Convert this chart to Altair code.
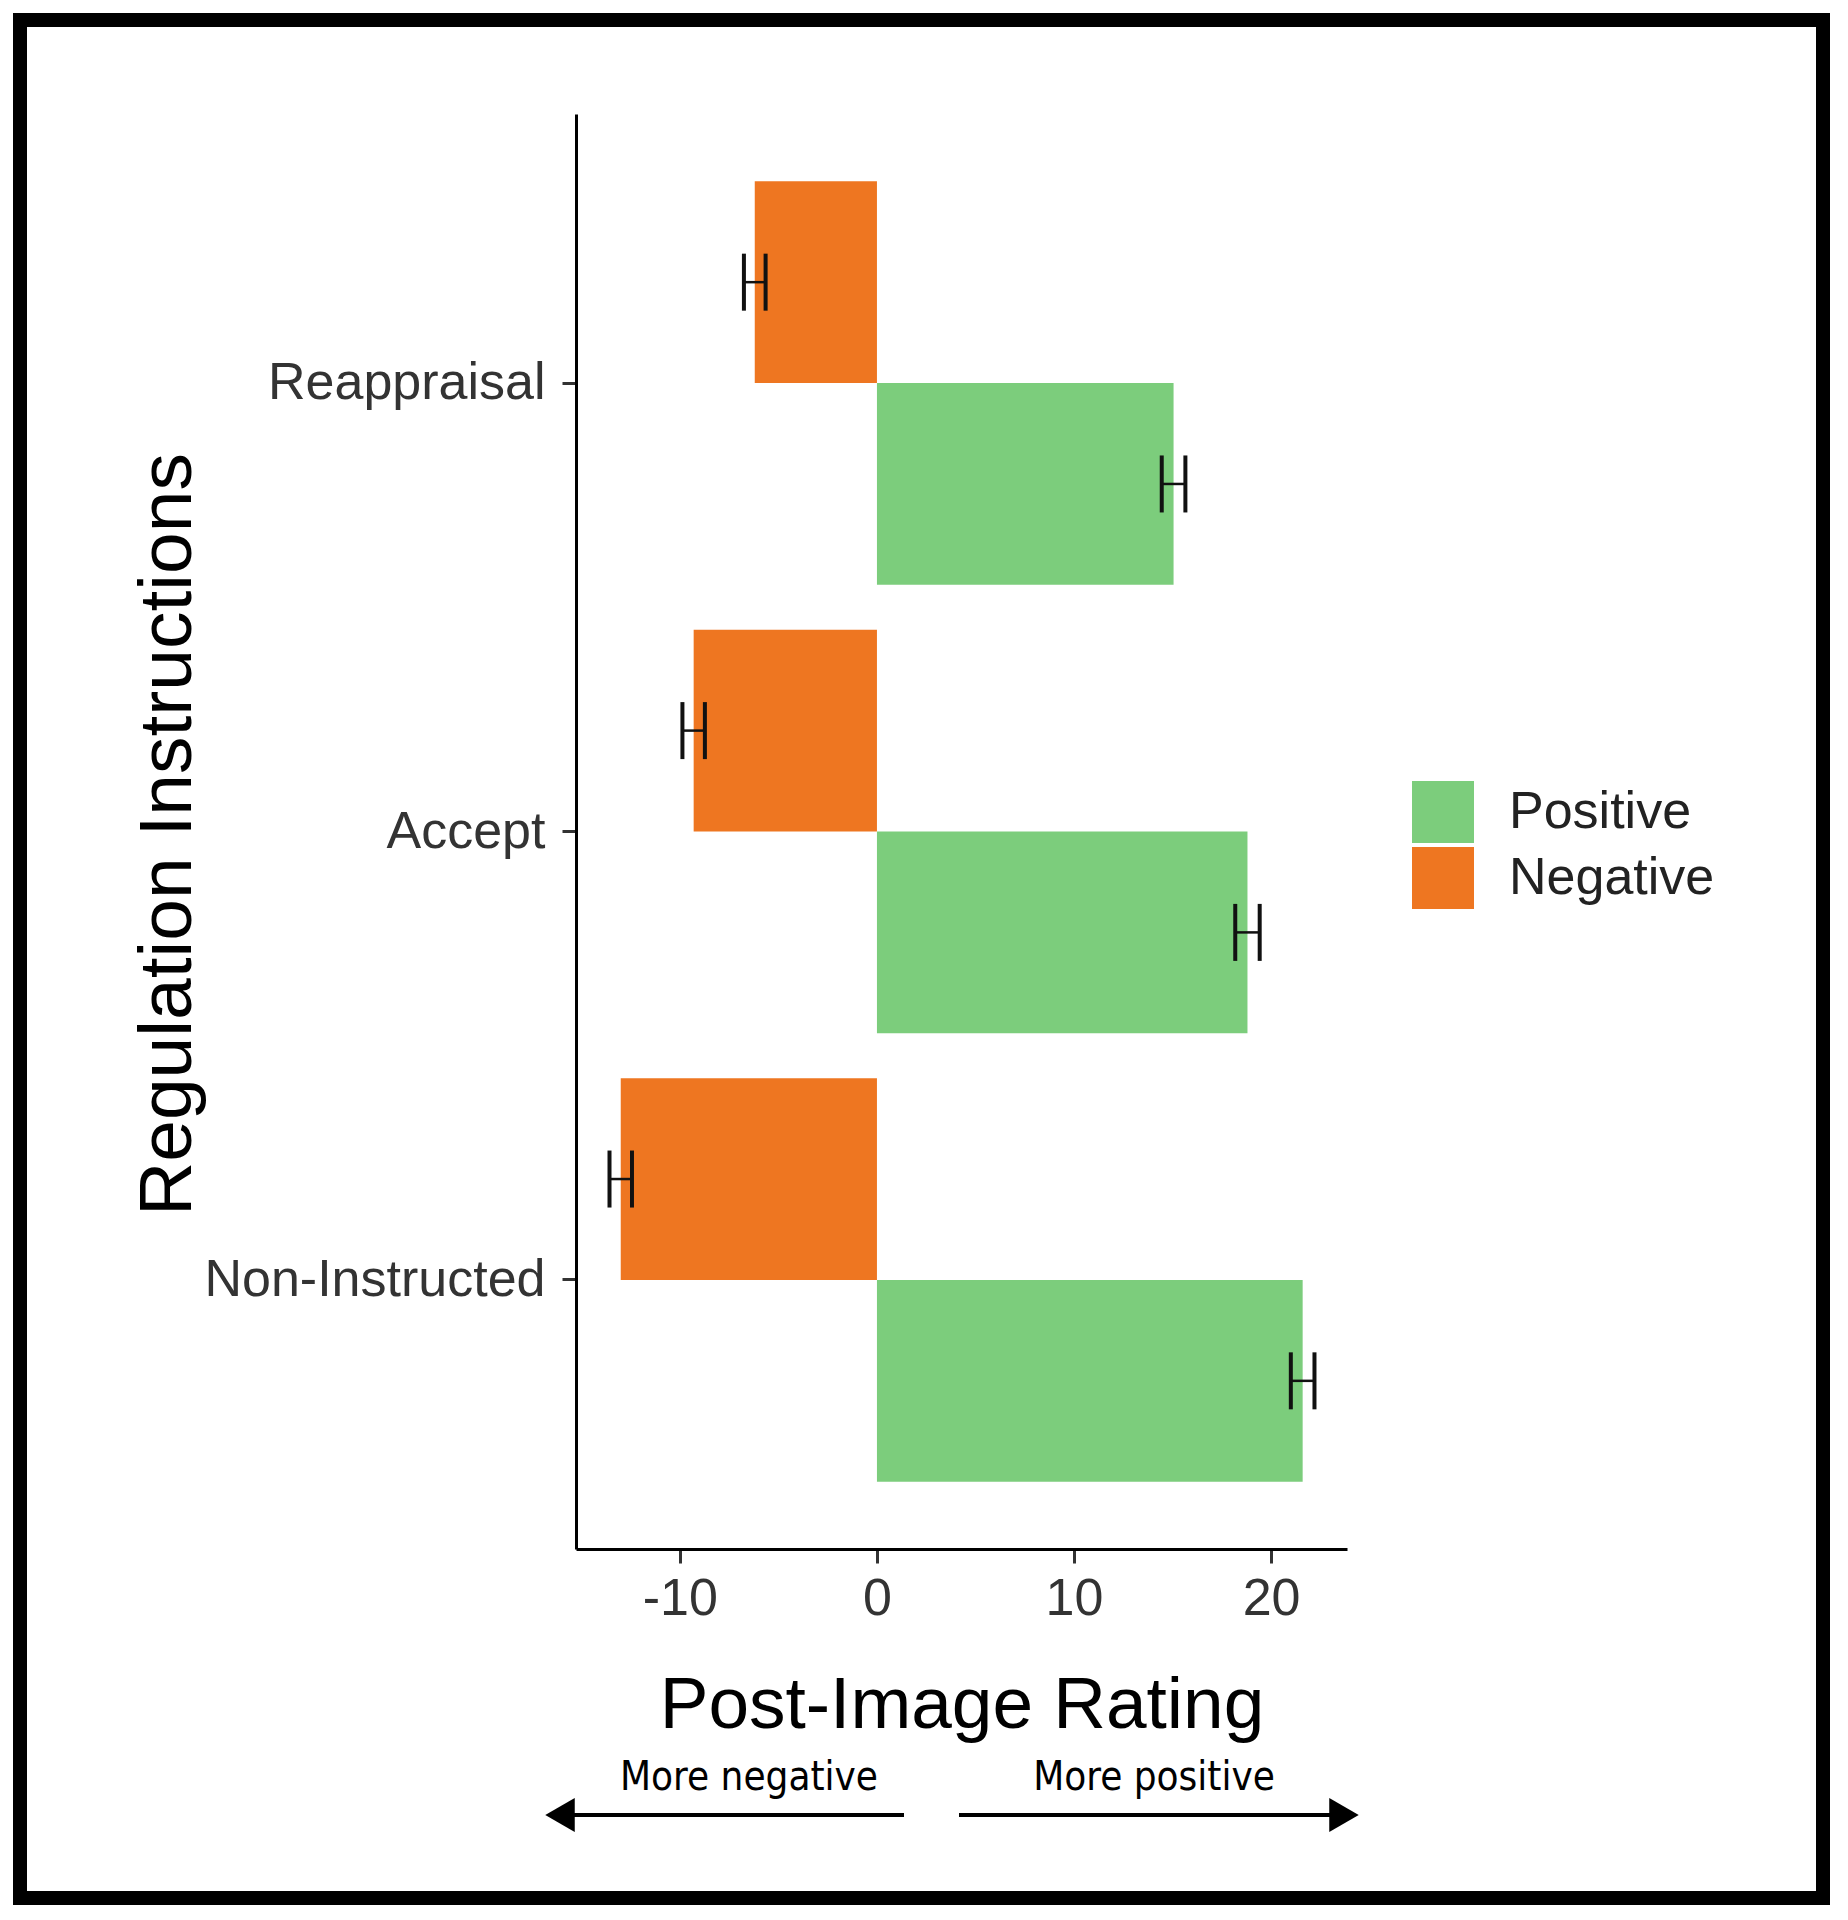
import altair as alt
import pandas as pd

# ---- data ----
categories = ["Reappraisal", "Accept", "Non-Instructed"]
positive_means = [15.05, 18.8, 21.6]
positive_se = [0.6, 0.62, 0.6]
negative_means = [-6.2, -9.3, -13.0]
negative_se = [0.55, 0.57, 0.57]
legend_order = ["Positive", "Negative"]
stack_order = ["Negative", "Positive"]
bar_colors = ["#7CCD7C", "#EE7621"]
x_ticks = [-10, 0, 10, 20]

rows = []
for c, m, s in zip(categories, positive_means, positive_se):
    rows.append({"Instruction": c, "Valence": "Positive", "Rating": m, "lo": m - s, "hi": m + s})
for c, m, s in zip(categories, negative_means, negative_se):
    rows.append({"Instruction": c, "Valence": "Negative", "Rating": m, "lo": m - s, "hi": m + s})
df = pd.DataFrame(rows)

W, H = 771, 1435
FONT = "Liberation Sans, Arial, Helvetica, sans-serif"
NARROW = "Liberation Sans Narrow, Arial Narrow, DejaVu Sans Condensed, sans-serif"

x_scale = alt.Scale(domain=[-15.27, 23.85], nice=False, zero=False)
x_axis = alt.Axis(
    values=x_ticks, title="Post-Image Rating", labelExpr="toString(datum.value)",
    labelFontSize=52, labelColor="#333333", labelFont=FONT, labelPadding=10,
    tickSize=14, tickWidth=3, tickColor="#333333",
    domainColor="black", domainWidth=3, grid=False,
    titleFont=FONT, titleFontSize=73, titleFontWeight="normal", titleColor="black",
    titleX=W / 2, titleY=178, titleBaseline="alphabetic", titleAlign="center",
)
y_scale = alt.Scale(domain=categories, paddingInner=0.1, paddingOuter=0.15)
y_axis = alt.Axis(
    title="Regulation Instructions", labelFontSize=52, labelColor="#333333", labelFont=FONT,
    labelPadding=17, labelLimit=600, tickSize=14, tickWidth=3, tickColor="#333333",
    domainColor="black", domainWidth=3, grid=False,
    titleFont=FONT, titleFontSize=75, titleFontWeight="normal", titleColor="black",
    titleAngle=-90, titleX=-386, titleY=720, titleBaseline="alphabetic", titleAlign="center",
)

def enc_y():
    return alt.Y("Instruction:N", sort=categories, scale=y_scale, axis=y_axis)

def enc_yoff():
    return alt.YOffset("Valence:N", sort=stack_order,
                       scale=alt.Scale(domain=stack_order, paddingInner=0, paddingOuter=0))

base = alt.Chart(df)

bars = base.mark_bar().encode(
    x=alt.X("Rating:Q", scale=x_scale, axis=x_axis),
    y=enc_y(),
    yOffset=enc_yoff(),
    color=alt.Color(
        "Valence:N",
        scale=alt.Scale(domain=legend_order, range=bar_colors),
        legend=alt.Legend(
            title=None, orient="none", legendX=836, legendY=667, padding=0,
            symbolType="square", symbolSize=3844, symbolStrokeWidth=0, symbolOpacity=1,
            labelFont=FONT, labelFontSize=52, labelColor="#222222", labelOffset=35,
            labelLimit=400, rowPadding=4,
        ),
    ),
)

err_line = base.mark_rule(color="#111111", strokeWidth=2.5).encode(
    x=alt.X("lo:Q", scale=x_scale, axis=x_axis),
    x2="hi:Q",
    y=enc_y(),
    yOffset=enc_yoff(),
)
cap_lo = base.mark_tick(color="#111111", thickness=4, size=57, opacity=1).encode(
    x=alt.X("lo:Q", scale=x_scale, axis=x_axis),
    y=enc_y(),
    yOffset=enc_yoff(),
)
cap_hi = base.mark_tick(color="#111111", thickness=4, size=57, opacity=1).encode(
    x=alt.X("hi:Q", scale=x_scale, axis=x_axis),
    y=enc_y(),
    yOffset=enc_yoff(),
)

one = alt.Data(values=[{"a": 1}])

border = alt.Chart(one).mark_rect(
    fillOpacity=0, stroke="black", strokeWidth=14
).encode(
    x=alt.value(-556), x2=alt.value(1247), y=alt.value(-94), y2=alt.value(1784)
)

arrow_left_line = alt.Chart(one).mark_rule(color="black", strokeWidth=4).encode(
    x=alt.value(-15), x2=alt.value(328), y=alt.value(1701)
)
arrow_left_head = alt.Chart(one).mark_point(
    shape="triangle-left", filled=True, color="black", size=1156, opacity=1
).encode(x=alt.value(-16), y=alt.value(1701))
arrow_right_line = alt.Chart(one).mark_rule(color="black", strokeWidth=4).encode(
    x=alt.value(383), x2=alt.value(766), y=alt.value(1701)
)
arrow_right_head = alt.Chart(one).mark_point(
    shape="triangle-right", filled=True, color="black", size=1156, opacity=1
).encode(x=alt.value(768), y=alt.value(1701))

txt_neg = alt.Chart(one).mark_text(
    text="More negative", font=NARROW, fontSize=40, align="center", baseline="alphabetic", color="black"
).encode(x=alt.value(173), y=alt.value(1676))
txt_pos = alt.Chart(one).mark_text(
    text="More positive", font=NARROW, fontSize=40, align="center", baseline="alphabetic", color="black"
).encode(x=alt.value(578), y=alt.value(1676))

chart = alt.layer(
    border, bars, err_line, cap_lo, cap_hi,
    arrow_left_line, arrow_left_head, arrow_right_line, arrow_right_head,
    txt_neg, txt_pos,
).properties(
    width=W, height=H, background="white"
).configure(
    font=FONT, view=alt.ViewConfig(strokeWidth=0, stroke="transparent")
)

chart.save("out.html", embed_options={"renderer": "svg", "actions": False})
